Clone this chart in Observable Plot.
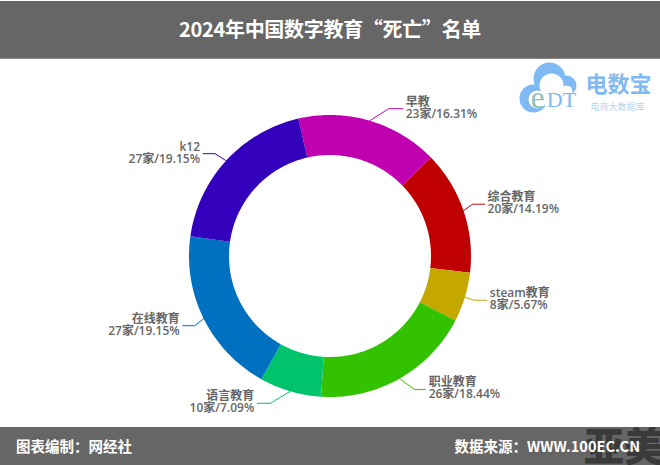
<!DOCTYPE html>
<html>
<head>
<meta charset="utf-8">
<script src="https://cdn.jsdelivr.net/npm/d3@7"></script>
<script src="https://cdn.jsdelivr.net/npm/@observablehq/plot@0.6"></script>
<style>
  html, body { margin: 0; padding: 0; background: #fff; }
  #page { position: relative; width: 660px; height: 465px; overflow: hidden; font-family: "Noto Sans CJK SC", "Noto Sans", sans-serif; }
  #titulo { position: absolute; left: 0; top: 1px; width: 660px; height: 58px; background: #666; border-bottom: 1px solid #8a8a8a; box-sizing: border-box; color: #fff; font-size: 20px; font-weight: 700; line-height: 56px; text-align: center; letter-spacing: -0.3px; }
  #chart { position: absolute; left: 0; top: 58px; }
  #pie { position: absolute; left: 0; top: 427px; width: 660px; height: 38px; background: #666; color: #fff; font-size: 14.5px; font-weight: 700; line-height: 37px; overflow: hidden; }
  #pie .izq { position: absolute; left: 16px; }
  #pie .der { position: absolute; right: 20px; }
  #pie .marca { position: absolute; left: 584px; top: -2px; font-size: 40px; line-height: 38px; font-weight: 900; color: #3a3a3a; white-space: nowrap; }
</style>
</head>
<body>
<div id="page">
  <div id="titulo">2024年中国数字教育“死亡”名单</div>
  <div id="chart"></div>
  <div id="pie">
    <span class="marca">亚美</span>
    <span class="izq">图表编制：网经社</span>
    <span class="der">数据来源：WWW.100EC.CN</span>
  </div>
</div>
<script>
const categorias = ['早教', '综合教育', 'steam教育', '职业教育', '语言教育', '在线教育', 'k12']
const cantidades = [23, 20, 8, 26, 10, 27, 27]
const porcentajes = ['16.31%', '14.19%', '5.67%', '18.44%', '7.09%', '19.15%', '19.15%']
const colores = ['#c000b0', '#c00000', '#c4a800', '#33c200', '#00c46c', '#0070c0', '#3300bb']

// codo de cada guia respecto al borde del anillo, y largo del tramo horizontal
const codoDx = [19, 9, 9, 15, -20, -9, -11]
const codoDy = [-12, -6.5, 3, 11, 12, 7, -7]
const tramo = [14, 12, 13, 11, -13, -12, -12]

const ancho = 660
const alto = 369
const centro = [329.5, 197.5]
const radioExt = 141
const radioInt = 101
const inicio = -13 * Math.PI / 180

const arcos = d3.pie().sort(null).startAngle(inicio).endAngle(inicio + 2 * Math.PI)(cantidades)

const polar = (r, a) => [centro[0] + r * Math.sin(a), centro[1] - r * Math.cos(a)]

/* Cada porcion es un poligono: borde exterior y vuelta por el interior */
const porciones = arcos.flatMap((d, i) => {
  const pasos = d3.range(0, 61).map(k => d.startAngle + (d.endAngle - d.startAngle) * k / 60)
  const puntos = [...pasos.map(a => polar(radioExt, a)), ...pasos.reverse().map(a => polar(radioInt, a))]
  return puntos.map(([x, y]) => ({ x, y, categoria: categorias[i] }))
})

const guias = arcos.flatMap((d, i) => {
  const [x0, y0] = polar(radioExt, (d.startAngle + d.endAngle) / 2)
  const x1 = x0 + codoDx[i], y1 = y0 + codoDy[i]
  return [[x0, y0], [x1, y1], [x1 + tramo[i], y1]].map(([x, y]) => ({ x, y, categoria: categorias[i] }))
})

const etiquetas = arcos.map((d, i) => {
  const [x0, y0] = polar(radioExt, (d.startAngle + d.endAngle) / 2)
  return {
    x: x0 + codoDx[i] + tramo[i],
    y: y0 + codoDy[i] - 1,
    derecha: tramo[i] > 0,
    texto: `${categorias[i]}\n${cantidades[i]}家/${porcentajes[i]}`
  }
})

const estiloEtiqueta = {
  x: 'x', y: 'y', text: 'texto',
  fontFamily: '"Open Sans", "Noto Sans CJK SC", sans-serif',
  fontSize: 12, lineHeight: 1, fontWeight: 600, fill: '#666'
}

/* Logo */
const nube = [{ x: 533, y: 40, r: 14 }, { x: 549, y: 20, r: 16 }, { x: 566, y: 27, r: 10 }]
const nubeHueco = [{ x: 537, y: 41, r: 9 }, { x: 551, y: 27, r: 12 }, { x: 566, y: 33, r: 6 }, { x: 556, y: 44, r: 12 }]

const chart = Plot.plot({
  width: ancho,
  height: alto,
  margin: 0,
  x: { domain: [0, ancho], range: [0, ancho], axis: null },
  y: { domain: [0, alto], range: [0, alto], axis: null },
  r: { type: 'identity' },
  color: { domain: categorias, range: colores },
  marks: [
    Plot.dot(nube, { x: 'x', y: 'y', r: 'r', fill: '#7fbaf2' }),
    Plot.dot(nubeHueco, { x: 'x', y: 'y', r: 'r', fill: '#fff' }),
    Plot.text(['e'], { x: 537, y: 40, fontSize: 31, fontFamily: 'Liberation Serif', fill: '#8fc0b8' }),
    Plot.text(['DT'], { x: 561, y: 41, fontSize: 22, fontFamily: 'Liberation Serif', fill: '#7fbaf2' }),
    Plot.text(['电数宝'], { x: 618, y: 26, fontSize: 22, letterSpacing: 3.5, fontWeight: 700, fill: '#7fbaf2', fontFamily: 'Noto Sans CJK SC' }),
    Plot.text(['电商大数据库'], { x: 617, y: 49, fontSize: 9, letterSpacing: 3, fill: '#b5d5f0', fontFamily: 'Noto Sans CJK SC' }),
    Plot.line(porciones, { x: 'x', y: 'y', z: 'categoria', fill: 'categoria', stroke: null }),
    Plot.line(guias, { x: 'x', y: 'y', z: 'categoria', stroke: 'categoria', strokeWidth: 1 }),
    Plot.text(etiquetas.filter(d => d.derecha), { ...estiloEtiqueta, textAnchor: 'start', dx: 3 }),
    Plot.text(etiquetas.filter(d => !d.derecha), { ...estiloEtiqueta, textAnchor: 'end', dx: -3 })
  ]
})

document.querySelector('#chart').append(chart)
</script>
</body>
</html>
